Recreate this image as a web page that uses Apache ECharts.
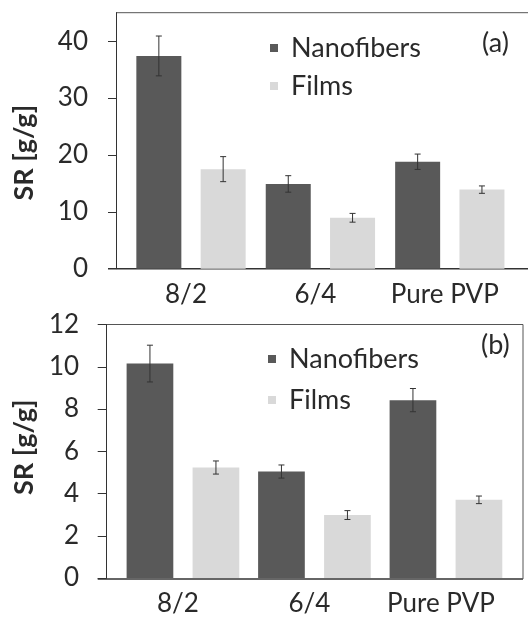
<!DOCTYPE html>
<html><head><meta charset="utf-8">
<script src="https://cdn.jsdelivr.net/npm/echarts@6/dist/echarts.min.js"></script>
<style>html,body{margin:0;padding:0;background:#fff}#c{width:528px;height:617px}</style>
</head><body><div id="c"></div>
<script>
// ---- data ----
const categories = ['8/2', '6/4', 'Pure PVP'];
const seriesNames = ['Nanofibers', 'Films'];
const panelLabels = ['(a)', '(b)'];
const yAxisName = 'SR [g/g]';
const nanoA = [37.4, 14.9, 18.8];
const nanoAErr = [3.5, 1.45, 1.35];
const filmsA = [17.5, 8.95, 13.9];
const filmsAErr = [2.2, 0.77, 0.65];
const nanoB = [10.15, 5.04, 8.42];
const nanoBErr = [0.87, 0.31, 0.55];
const filmsB = [5.23, 2.98, 3.70];
const filmsBErr = [0.31, 0.21, 0.18];
const yScaleA = { min: 0, max: 45, interval: 10 };
const yScaleB = { min: 0, max: 12, interval: 2 };

// ---- layout / style ----
const FONT = 'Lato, "Open Sans", sans-serif';
const TXT = '#2a2a2a';
const AX = '#333';
const FRAME = '#555';
const COLORS = ['#595959', '#d9d9d9'];
const panels = [
  { top: 12.7, bottom: 268.7, gridLeft: 126.3, gridWidth: 388.2, axisX: 116, tick: 8, frameRight: 530, rightBorder: false,
    barWidth: 45, gap: 19.3, scale: yScaleA, data: [[nanoA, nanoAErr], [filmsA, filmsAErr]],
    nameGap: 78, namePad: [0, 24, 0, 0], labelMargin: 28,
    legendLeft: 265, legendTop: 28, legendGap: 8, tag: { x: 482, y: 43 } },
  { top: 324.5, bottom: 579, gridLeft: 117.2, gridWidth: 394.5, axisX: 106.7, tick: 9, frameRight: 523, rightBorder: true,
    barWidth: 46.7, gap: 19.3, scale: yScaleB, data: [[nanoB, nanoBErr], [filmsB, filmsBErr]],
    nameGap: 65, namePad: [0, 0, 0, 8], labelMargin: 27.5,
    legendLeft: 263, legendTop: 339, legendGap: 11, tag: { x: 481, y: 345 } }
];

const grid = [], xAxis = [], yAxis = [], series = [], legend = [], graphic = [];
panels.forEach((p, pi) => {
  grid.push({ left: p.gridLeft, top: p.top, width: p.gridWidth, height: p.bottom - p.top, containLabel: false });
  xAxis.push({
    type: 'category', gridIndex: pi, data: categories,
    axisLine: { show: false }, axisTick: { show: false },
    axisLabel: { interval: 0, color: TXT, fontFamily: FONT, fontSize: 26, margin: 13, padding: [0, 10, 0, 0] }
  });
  yAxis.push({
    type: 'value', gridIndex: pi, min: p.scale.min, max: p.scale.max, interval: p.scale.interval,
    offset: p.gridLeft - p.axisX,
    splitLine: { show: false },
    axisLine: { show: true, lineStyle: { color: AX, width: 1 } },
    axisTick: { show: true, length: p.tick, lineStyle: { color: AX } },
    axisLabel: { color: TXT, fontFamily: FONT, fontSize: 26, margin: p.labelMargin, showMaxLabel: pi === 1 },
    name: yAxisName, nameLocation: 'middle', nameGap: p.nameGap, nameRotate: 90,
    nameTextStyle: { color: TXT, fontFamily: FONT, fontSize: 27, fontWeight: 'bold', padding: p.namePad }
  });
  const half = (p.barWidth + p.gap) / 2;
  p.data.forEach(([vals, errs], si) => {
    series.push({
      type: 'bar', name: seriesNames[si], xAxisIndex: pi, yAxisIndex: pi,
      data: vals, barWidth: p.barWidth, barGap: (p.gap / p.barWidth * 100).toFixed(1) + '%',
      itemStyle: { color: COLORS[si] }, z: 2
    });
    const off = si === 0 ? -half : half;
    series.push({
      type: 'custom', xAxisIndex: pi, yAxisIndex: pi, z: 5,
      data: vals.map((v, i) => [i, v, errs[i]]),
      encode: { x: 0, y: 1 },
      renderItem: (params, api) => {
        const i = api.value(0), v = api.value(1), e = api.value(2);
        const hi = api.coord([i, v + e]);
        const lo = api.coord([i, v - e]);
        const x = hi[0] + off;
        const cw = 3;
        const st = { stroke: '#333', lineWidth: 1 };
        return { type: 'group', children: [
          { type: 'line', shape: { x1: x, y1: hi[1], x2: x, y2: lo[1] }, style: st },
          { type: 'line', shape: { x1: x - cw, y1: hi[1], x2: x + cw, y2: hi[1] }, style: st },
          { type: 'line', shape: { x1: x - cw, y1: lo[1], x2: x + cw, y2: lo[1] }, style: st }
        ] };
      }
    });
  });
  legend.push({
    orient: 'vertical', left: p.legendLeft, top: p.legendTop, itemGap: p.legendGap,
    icon: 'rect', itemWidth: 8, itemHeight: 8, data: seriesNames, selectedMode: false,
    textStyle: { color: TXT, fontFamily: FONT, fontSize: 27, lineHeight: 30, padding: [0, 0, 0, 8] }
  });
  // frame
  graphic.push({ type: 'line', shape: { x1: p.axisX, y1: p.top, x2: p.frameRight, y2: p.top }, style: { stroke: FRAME, lineWidth: 1 } });
  graphic.push({ type: 'line', shape: { x1: p.axisX - p.tick, y1: p.bottom, x2: p.frameRight, y2: p.bottom }, style: { stroke: AX, lineWidth: 1.5 } });
  if (p.rightBorder) graphic.push({ type: 'line', shape: { x1: p.frameRight, y1: p.top, x2: p.frameRight, y2: p.bottom }, style: { stroke: FRAME, lineWidth: 1 } });
  graphic.push({ type: 'text', x: p.tag.x, y: p.tag.y, style: { text: panelLabels[pi], fill: TXT, font: '27px ' + FONT, textVerticalAlign: 'middle' } });
});

const chart = echarts.init(document.getElementById('c'), null, { renderer: 'canvas' });
chart.setOption({ animation: false, backgroundColor: '#fff', grid, xAxis, yAxis, series, legend, graphic });
</script></body></html>
